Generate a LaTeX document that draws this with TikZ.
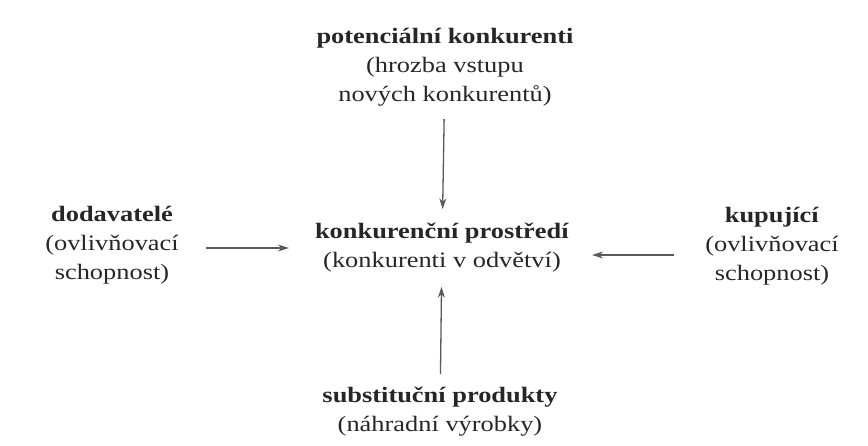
\documentclass[tikz,border=0pt]{standalone}
\usepackage{fontspec}
\setmainfont{Liberation Serif}[FakeStretch=1.2]
\usetikzlibrary{arrows.meta}
\begin{document}
\begin{tikzpicture}[x=1pt,y=-1pt,
  lbl/.style={align=center,inner sep=0pt,font=\fontsize{22}{29}\selectfont,text=black!85},
  arr/.style={draw=black!65,line width=1.3pt,-{Stealth[length=11pt,width=7pt]}}]
\useasboundingbox (0,0) rectangle (868,446);
\node[lbl] (top) at (445,67) {\textbf{potenciální konkurenti}\\(hrozba vstupu\\nových konkurentů)};
\node[lbl] (mid) at (442,248) {\textbf{konkurenční prostředí}\\(konkurenti v odvětví)};
\node[lbl] (left) at (112,245) {\textbf{dodavatelé}\\(ovlivňovací\\schopnost)};
\node[lbl] (right) at (772,246) {\textbf{kupující}\\(ovlivňovací\\schopnost)};
\node[lbl] (bot) at (440,412) {\textbf{substituční produkty}\\(náhradní výrobky)};
\draw[arr,shorten <=13pt,shorten >=14pt] (top) -- (mid);
\draw[arr,shorten <=13pt,shorten >=14pt] (bot) -- (mid);
\draw[arr,shorten <=27pt,shorten >=26pt] (left.east|-0,248) -- (mid.west|-0,248);
\draw[arr,shorten <=31pt,shorten >=23pt] (right.west|-0,255) -- (mid.east|-0,255);
\end{tikzpicture}
\end{document}
